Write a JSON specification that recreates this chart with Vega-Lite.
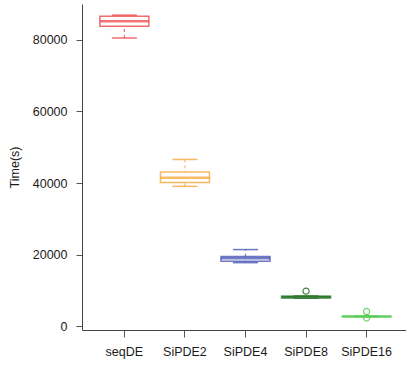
{
  "$schema": "https://vega.github.io/schema/vega-lite/v6.json",
  "autosize": "none",
  "width": 324,
  "height": 326,
  "padding": {"left": 82, "top": 4, "right": 0, "bottom": 36},
  "background": "white",
  "config": {
    "view": {"stroke": null},
    "font": "Liberation Sans",
    "axis": {
      "grid": false,
      "labelFont": "Liberation Sans",
      "titleFont": "Liberation Sans",
      "labelFontSize": 12.5,
      "titleFontSize": 12.5,
      "titleFontWeight": "normal",
      "labelColor": "#1a1a1a",
      "titleColor": "#1a1a1a",
      "domainColor": "#444",
      "tickColor": "#555"
    }
  },
  "datasets": {
    "summary": [
      {"method": "seqDE", "min": 80500, "q1": 83800, "median": 85200, "q3": 86600, "max": 86900},
      {"method": "SiPDE2", "min": 39100, "q1": 40200, "median": 41500, "q3": 43100, "max": 46600},
      {"method": "SiPDE4", "min": 17800, "q1": 18200, "median": 19050, "q3": 19500, "max": 21450},
      {"method": "SiPDE8", "min": 7900, "q1": 7950, "median": 8200, "q3": 8450, "max": 8500},
      {"method": "SiPDE16", "min": 2700, "q1": 2720, "median": 2790, "q3": 2860, "max": 2900}
    ],
    "outliers": [
      {"method": "SiPDE8", "value": 9850},
      {"method": "SiPDE16", "value": 4150},
      {"method": "SiPDE16", "value": 2350}
    ]
  },
  "encoding": {
    "x": {
      "field": "method", "type": "nominal",
      "sort": ["seqDE", "SiPDE2", "SiPDE4", "SiPDE8", "SiPDE16"],
      "scale": {"type": "band", "paddingInner": 0, "paddingOuter": 0.2, "range": [0, 327]},
      "axis": {"title": null, "labelAngle": 0, "tickSize": 7, "labelPadding": 8, "domain": true}
    },
    "color": {
      "field": "method", "type": "nominal",
      "scale": {
        "domain": ["seqDE", "SiPDE2", "SiPDE4", "SiPDE8", "SiPDE16"],
        "range": ["#ec3c3c", "#f5a02a", "#3a48b0", "#1f6e1f", "#55cc55"]
      },
      "legend": null
    }
  },
  "layer": [
    {
      "data": {"name": "summary"},
      "mark": {"type": "rule", "strokeDash": [3, 3], "strokeWidth": 1.2, "opacity": 0.7},
      "encoding": {
        "y": {
          "field": "min", "type": "quantitative",
          "scale": {"domain": [-1000, 90000], "nice": false, "zero": false},
          "axis": {"title": "Time(s)", "values": [0, 20000, 40000, 60000, 80000], "format": "d", "tickSize": 6, "labelPadding": 9, "titlePadding": 11}
        },
        "y2": {"field": "max"}
      }
    },
    {
      "data": {"name": "summary"},
      "mark": {"type": "tick", "size": 25, "thickness": 1.5, "opacity": 0.75},
      "encoding": {"y": {"field": "min", "type": "quantitative"}}
    },
    {
      "data": {"name": "summary"},
      "mark": {"type": "tick", "size": 25, "thickness": 1.5, "opacity": 0.75},
      "encoding": {"y": {"field": "max", "type": "quantitative"}}
    },
    {
      "data": {"name": "summary"},
      "mark": {"type": "bar", "width": 49, "fill": "white", "strokeWidth": 1.5, "strokeOpacity": 0.75},
      "encoding": {
        "y": {"field": "q1", "type": "quantitative"},
        "y2": {"field": "q3"},
        "color": {"value": "white"},
        "stroke": {
          "field": "method", "type": "nominal", "legend": null,
          "scale": {
            "domain": ["seqDE", "SiPDE2", "SiPDE4", "SiPDE8", "SiPDE16"],
            "range": ["#ec3c3c", "#f5a02a", "#3a48b0", "#1f6e1f", "#55cc55"]
          }
        }
      }
    },
    {
      "data": {"name": "summary"},
      "mark": {"type": "tick", "size": 49, "thickness": 2.5},
      "encoding": {"y": {"field": "median", "type": "quantitative"}}
    },
    {
      "data": {"name": "outliers"},
      "mark": {"type": "point", "shape": "circle", "filled": false, "size": 38, "strokeWidth": 1.2, "opacity": 0.85},
      "encoding": {"y": {"field": "value", "type": "quantitative"}}
    },
    {
      "mark": {"type": "rule", "color": "#555", "strokeWidth": 1},
      "encoding": {"y": {"datum": 90000}}
    }
  ]
}
